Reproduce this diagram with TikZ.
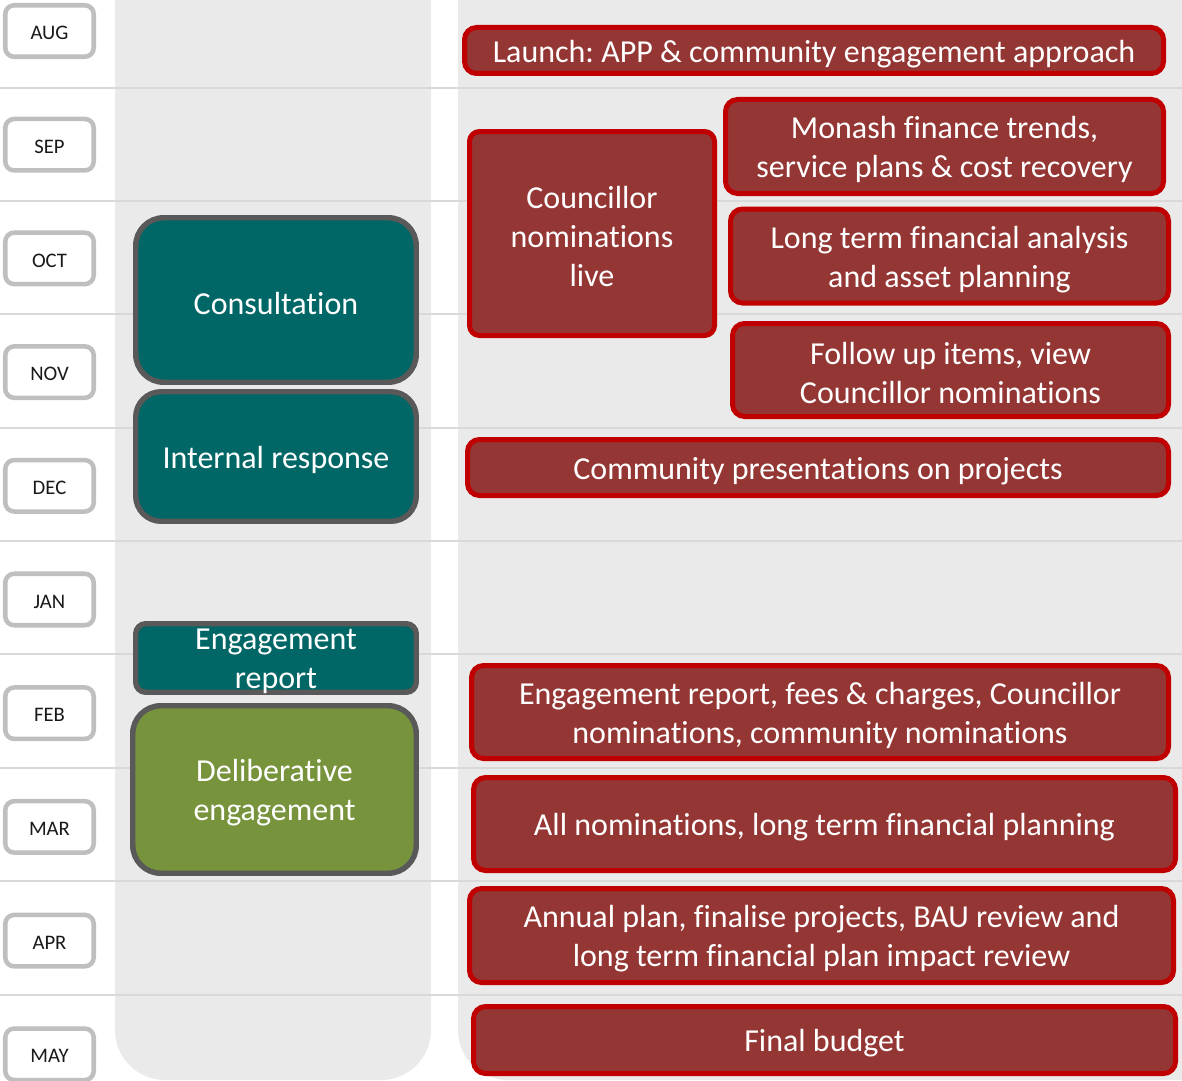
\documentclass[tikz,border=0pt]{standalone}
\usepackage{fontspec}
\setmainfont{Carlito}[Ligatures=CommonOff]
\frenchspacing
\definecolor{colgray}{RGB}{234,234,234}
\definecolor{rowgray}{RGB}{217,217,217}
\definecolor{monthgray}{RGB}{191,191,191}
\definecolor{tealfill}{RGB}{0,102,102}
\definecolor{darkborder}{RGB}{89,89,89}
\definecolor{olivefill}{RGB}{119,147,60}
\definecolor{redfill}{RGB}{148,54,52}
\definecolor{redborder}{RGB}{192,0,0}
\newcommand\boxfont{\fontsize{24}{29.25}\selectfont}
\newcommand\monthfont{\fontsize{15.5}{18}\selectfont}
\newcommand\boxtext[2]{\node[boxlabel] (#1-text) at ([yshift=-2.6pt]#1.center) {#2};}
\begin{document}
\begin{tikzpicture}[x=0.75pt,y=-0.75pt,
  redsize/.style 2 args={minimum width={0.75pt*(#1-5)},minimum height={0.75pt*(#2-5)}},
  tealsize/.style 2 args={minimum width={0.75pt*(#1-5.5)},minimum height={0.75pt*(#2-5.5)}},
  redbox/.style={draw=redborder,fill=redfill,line width=3.75pt,rounded corners=9pt,inner sep=0pt},
  phasebox/.style={draw=darkborder,line width=4.1pt,inner sep=0pt},
  tealbox/.style={phasebox,fill=tealfill},
  olivebox/.style={phasebox,fill=olivefill},
  boxlabel/.style={text=white,align=center,inner sep=0pt,font=\boxfont},
  monthbox/.style={draw=monthgray,fill=white,line width=3.4pt,rounded corners=6.75pt,
    minimum width={0.75pt*88.5},minimum height={0.75pt*51.5},inner sep=0pt},
  monthlabel/.style={inner sep=0pt,text={black!90},font=\monthfont},
  rowline/.style={draw=rowgray,line width=1.5pt}]
\useasboundingbox (0,0) rectangle (1182,1081);
\clip (0,0) rectangle (1182,1081);
% background columns
\fill[colgray,rounded corners=37.5pt] (115,-120) rectangle (431,1080);
\fill[colgray,rounded corners=37.5pt] (458,-120) rectangle (1300,1080);
% row separators
\foreach \k in {0,...,8}
  \draw[rowline] (0,{87.7+113.35*\k}) -- (1182,{87.7+113.35*\k});
% months
\foreach \m [count=\i from 0] in {AUG,SEP,OCT,NOV,DEC,JAN,FEB,MAR,APR,MAY}{
  \node[monthbox] (m\m) at (49.5,{31+113.7*\i}) {};
  \node[monthlabel] (m\m-text) at ([yshift=-1.5pt]m\m.center) {\m};
}
% phase boxes (left column)
\node[tealbox,tealsize={286}{170},rounded corners=21pt] (consult) at (276,300) {};
\boxtext{consult}{Consultation}
\node[tealbox,tealsize={286}{135},rounded corners=19pt] (internal) at (276,456.5) {};
\boxtext{internal}{Internal response}
\node[tealbox,tealsize={286}{74},rounded corners=7.5pt] (engrep) at (276,658) {};
\boxtext{engrep}{Engagement\\report}
\node[olivebox,tealsize={289}{173},rounded corners=21pt] (delib) at (274.5,789.5) {};
\boxtext{delib}{Deliberative\\engagement}
% activity boxes (right column)
\node[redbox,redsize={704}{51}] (launch) at (814,50.5) {};
\boxtext{launch}{Launch: APP \& community engagement approach}
\node[redbox,redsize={250}{209},rounded corners=7.5pt] (councillor) at (592,233.5) {};
\boxtext{councillor}{Councillor\\nominations\\live}
\node[redbox,redsize={443}{99}] (monash) at (944.5,146.5) {};
\boxtext{monash}{Monash finance trends,\\service plans \& cost recovery}
\node[redbox,redsize={443}{99}] (longterm) at (949.5,256) {};
\boxtext{longterm}{Long term financial analysis\\and asset planning}
\node[redbox,redsize={441}{98}] (follow) at (950.5,370) {};
\boxtext{follow}{Follow up items, view\\Councillor nominations}
\node[redbox,redsize={706}{61}] (community) at (818,467.5) {};
\boxtext{community}{Community presentations on projects}
\node[redbox,redsize={702}{98}] (engfees) at (820,712) {};
\boxtext{engfees}{Engagement report, fees \& charges, Councillor\\nominations, community nominations}
\node[redbox,redsize={707}{98}] (allnom) at (824.5,824) {};
\boxtext{allnom}{All nominations, long term financial planning}
\node[redbox,redsize={709}{99}] (annual) at (821.5,935.5) {};
\boxtext{annual}{Annual plan, finalise projects, BAU review and\\long term financial plan impact review}
\node[redbox,redsize={707}{72}] (final) at (824.5,1040) {};
\boxtext{final}{Final budget}
\end{tikzpicture}
\end{document}
